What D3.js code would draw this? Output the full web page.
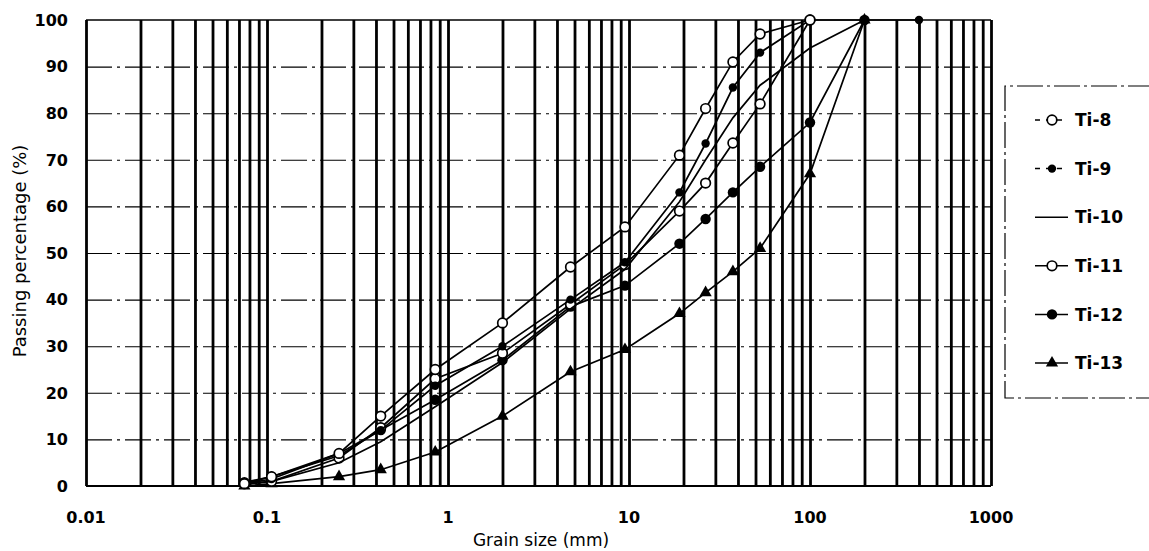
<!DOCTYPE html>
<meta charset="utf-8">
<html>
<head>
<style>
  body { margin: 0; background: #fff; }
  text { font-family: "DejaVu Sans", sans-serif; fill: #000; }
</style>
</head>
<body>
<script src="https://d3js.org/d3.v7.min.js"></script>
<script>

// sieve sizes (mm)
var sizes = [0.075, 0.106, 0.25, 0.425, 0.85, 2, 4.75, 9.5, 19, 26.5, 37.5, 53, 100, 200, 400];

// passing percentage per sample (null = not measured)
var ti8  = [0.5, 2, 7, 15, 25, 35, 47, 55.6, 71, 81, 91, 97, 100, null, null];
var ti9  = [0.5, 1.5, 7, 12, 21.5, 30, 40, 48, 63, 73.5, 85.5, 93, 100, 100, 100];
var ti10 = [0.3, 1, 5, 9.5, 17, 26.5, 38, 46.5, 61, 70, 79, 86, 94, 100, null];
var ti11 = [0.5, 1, 6, 12.5, 23, 28.5, 39, 47.5, 59, 65, 73.6, 82, 100, null, null];
var ti12 = [0.8, 2, 6.5, 12, 18.5, 27, 38.5, 43, 52, 57.3, 63, 68.5, 78, 100, null];
var ti13 = [0, 0.5, 2, 3.5, 7.3, 15, 24.5, 29.3, 37, 41.5, 46, 51, 67, 100, null];

var names = ["Ti-8", "Ti-9", "Ti-10", "Ti-11", "Ti-12", "Ti-13"];
var values = [ti8, ti9, ti10, ti11, ti12, ti13];
var markers = ["open", "dot", "none", "open", "filled", "triangle"];

var xTicks = [0.01, 0.1, 1, 10, 100, 1000];
var xTickLabels = ["0.01", "0.1", "1", "10", "100", "1000"];
var yTicks = [0, 10, 20, 30, 40, 50, 60, 70, 80, 90, 100];

var W = 1149, H = 551;

var svg = d3.select("body").append("svg")
	.attr("width", W)
	.attr("height", H);

svg.append("rect").attr("width", W).attr("height", H).attr("fill", "#fff");

var x = d3.scaleLog()
	.domain([0.01, 1000])
	.range([86, 991]);

var y = d3.scaleLinear()
	.domain([0, 100])
	.range([486, 20]);

// horizontal dashed grid
svg.append("g")
	.attr("class", "grid")
	.attr("transform", "translate(" + x(0.01) + ",0)")
	.call(d3.axisLeft(y).tickValues(yTicks.slice(1, -1)).tickSize(-(x(1000) - x(0.01))).tickFormat(""))
	.call(function(g) { g.select(".domain").remove(); })
	.selectAll("line")
	.attr("stroke", "#000")
	.attr("stroke-width", 1.1)
	.attr("stroke-dasharray", "26,5,3,5");

// vertical log grid, 1..9 per decade
var vgrid = [];
for (var k = -2; k <= 2; k++) {
	for (var m = 1; m <= 9; m++) vgrid.push(+(m * Math.pow(10, k)).toPrecision(3));
}
vgrid.push(1000);

svg.append("g")
	.attr("class", "grid")
	.attr("transform", "translate(0," + y(0) + ")")
	.call(d3.axisBottom(x).tickValues(vgrid).tickSize(-(y(0) - y(100))).tickFormat(""))
	.call(function(g) { g.select(".domain").remove(); })
	.selectAll("line")
	.attr("stroke", "#000")
	.attr("stroke-width", 2.8);

// top and bottom borders
svg.append("line")
	.attr("x1", x(0.01)).attr("x2", x(1000))
	.attr("y1", y(100)).attr("y2", y(100))
	.attr("stroke", "#000").attr("stroke-width", 1.6);
svg.append("line")
	.attr("x1", x(0.01)).attr("x2", x(1000))
	.attr("y1", y(0)).attr("y2", y(0))
	.attr("stroke", "#000").attr("stroke-width", 1.8);

// axis labels
svg.append("g")
	.selectAll("text")
	.data(yTicks)
	.enter().append("text")
	.attr("x", 68)
	.attr("y", function(d) { return y(d); })
	.attr("dy", "0.36em")
	.style("text-anchor", "end")
	.style("font-size", "16px")
	.style("font-weight", "bold")
	.text(function(d) { return d; });

svg.append("g")
	.selectAll("text")
	.data(xTicks)
	.enter().append("text")
	.attr("x", function(d) { return x(d); })
	.attr("y", 523)
	.style("text-anchor", "middle")
	.style("font-size", "16px")
	.style("font-weight", "bold")
	.text(function(d, i) { return xTickLabels[i]; });

svg.append("text")
	.text("Grain size (mm)")
	.attr("x", 541)
	.attr("y", 546)
	.style("text-anchor", "middle")
	.style("font-size", "17px");

svg.append("text")
	.text("Passing percentage (%)")
	.attr("transform", "translate(26,251) rotate(-90)")
	.style("text-anchor", "middle")
	.style("font-size", "18px");

// series
var line = d3.line()
	.defined(function(d) { return d[1] != null; })
	.x(function(d) { return x(d[0]); })
	.y(function(d) { return y(d[1]); });

function drawMarker(g, type, cx, cy) {
	if (type == "open") {
		g.append("circle").attr("cx", cx).attr("cy", cy).attr("r", 4.8)
			.attr("fill", "#fff").attr("stroke", "#000").attr("stroke-width", 1.7);
	} else if (type == "dot") {
		g.append("circle").attr("cx", cx).attr("cy", cy).attr("r", 4.2)
			.attr("fill", "#000");
	} else if (type == "filled") {
		g.append("circle").attr("cx", cx).attr("cy", cy).attr("r", 5.2)
			.attr("fill", "#000");
	} else if (type == "triangle") {
		g.append("path")
			.attr("d", d3.symbol().type(d3.symbolTriangle).size(65)())
			.attr("transform", "translate(" + cx + "," + cy + ")")
			.attr("fill", "#000");
	}
}

// draw Ti-13 first so the open circles end up on top
for (var s = values.length - 1; s >= 0; s--) {
	var pts = sizes.map(function(d, i) { return [d, values[s][i]]; });
	var g = svg.append("g").attr("class", "series");
	g.append("path")
		.datum(pts)
		.attr("d", line)
		.attr("fill", "none")
		.attr("stroke", "#000")
		.attr("stroke-width", 1.7);
	pts.forEach(function(p) {
		if (p[1] != null) drawMarker(g, markers[s], x(p[0]), y(p[1]));
	});
}

// legend
var legend = svg.append("g").attr("class", "legend");
legend.append("path")
	.attr("d", "M" + (W + 5) + ",86 H1005 V398 H" + (W + 5))
	.attr("fill", "#fff")
	.attr("stroke", "#000")
	.attr("stroke-width", 1.2)
	.attr("stroke-dasharray", "26,4,3,4");

names.forEach(function(n, i) {
	var ly = 120 + i * 48.6;
	var g = legend.append("g");
	g.append("line")
		.attr("x1", 1035).attr("x2", 1068)
		.attr("y1", ly).attr("y2", ly)
		.attr("stroke", "#000")
		.attr("stroke-width", 1.5)
		.attr("stroke-dasharray", i < 2 ? "5,6" : null);
	drawMarker(g, markers[i], 1052, ly);
	g.append("text")
		.attr("x", 1075)
		.attr("y", ly)
		.attr("dy", "0.36em")
		.style("font-size", "17px")
		.style("font-weight", "bold")
		.text(n);
});

</script>
</body>
</html>
